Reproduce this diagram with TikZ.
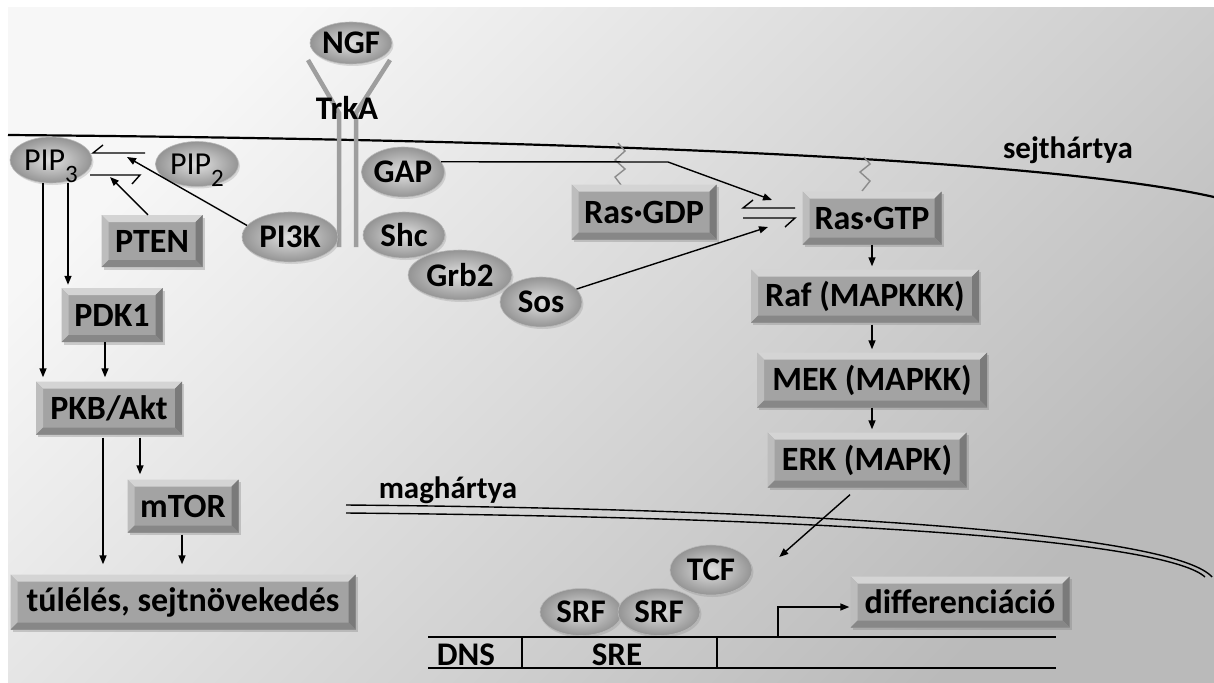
\documentclass[tikz,border=0pt]{standalone}
\usepackage{fontspec}
\setmainfont{Carlito}
\usetikzlibrary{shapes.geometric,arrows.meta,shadows,calc}
\newcommand\mybox{\fontsize{34}{36}\selectfont\bfseries}
\newcommand\myell{\fontsize{33}{35}\selectfont\bfseries}
\newcommand\mylab{\fontsize{31}{33}\selectfont\bfseries}
\newcommand\mypip{\fontsize{32}{34}\selectfont}
\begin{document}
\begin{tikzpicture}[x=1pt,y=-1pt,
  arr/.style={line width=1.4pt, -{Triangle[length=9pt,width=7pt]}},
  ln/.style={line width=1.4pt},
  memb/.style={line width=2.2pt},
  rec/.style={line width=4.5pt, draw=black!38},
  squig/.style={line width=1.4pt, draw=black!45},
  ell/.style={ellipse, inner sep=0pt, shading=radial, inner color=black!12, outer color=black!42,
    draw=black!28, line width=.6pt, font=\myell,
    drop shadow={shadow xshift=1.5pt, shadow yshift=-2pt, opacity=.25}},
  bevbox/.style={rectangle, inner sep=0pt, fill=black!36, font=\mybox,
    drop shadow={shadow xshift=2pt, shadow yshift=-2.5pt, opacity=.35},
    path picture={
      \path (path picture bounding box.north west) coordinate (bbnw)
            (path picture bounding box.north east) coordinate (bbne)
            (path picture bounding box.south west) coordinate (bbsw)
            (path picture bounding box.south east) coordinate (bbse);
      \fill[black!17] (bbnw) -- (bbne) -- ([shift={(-7pt,-7pt)}]bbne) -- ([shift={(7pt,-7pt)}]bbnw) -- cycle;
      \fill[black!26] (bbnw) -- ([shift={(7pt,-7pt)}]bbnw) -- ([shift={(7pt,7pt)}]bbsw) -- (bbsw) -- cycle;
      \fill[black!52] (bbne) -- (bbse) -- ([shift={(-7pt,7pt)}]bbse) -- ([shift={(-7pt,-7pt)}]bbne) -- cycle;
      \fill[black!47] (bbsw) -- (bbse) -- ([shift={(-7pt,7pt)}]bbse) -- ([shift={(7pt,7pt)}]bbsw) -- cycle;
    }},
  lab/.style={font=\mylab, inner sep=0pt}
]
\useasboundingbox (0,0) rectangle (1214,682);
\fill[white] (0,0) rectangle (1214,682);
\shade[top color=black!3, bottom color=black!27, shading angle=45] (8,8) rectangle (1214,682);

% cell membrane
\draw[memb] (8,135) .. controls (600,140) and (1050,160) .. (1214,197);
\node[lab] (sejt) at (1068,150) {sejthártya};

% nuclear membrane
\draw[ln] (346,505) .. controls (900,510) and (1180,540) .. (1212,577);
\draw[ln] (346,513) .. controls (900,518) and (1170,545) .. (1205,577);
\node[lab] (mag) at (448,490) {maghártya};

% TrkA receptor
\draw[rec] (308,60) -- (339,113) -- (339,247);
\draw[rec] (390,60) -- (356,113) -- (356,247);
\node[font=\myell, inner sep=0pt] (trka) at (347,108) {TrkA};

% anchors of Ras
\draw[squig] (618,143) -- (625,151) -- (615,160) -- (625,169) -- (615,177) -- (621,185);
\draw[squig] (864,157) -- (870,164) -- (860,172) -- (870,181) -- (862,191);

% ellipses
\node[ell, minimum width=82pt, minimum height=42pt] (NGF) at (351,43) {NGF};
\node[ell, minimum width=82pt, minimum height=46pt, font=\mypip] (PIP3) at (51,160) {PIP\smash{\raisebox{-12pt}{\fontsize{25}{25}\selectfont 3}}};
\node[ell, minimum width=83pt, minimum height=45pt, font=\mypip] (PIP2) at (197,164) {PIP\smash{\raisebox{-12pt}{\fontsize{25}{25}\selectfont 2}}};
\node[ell, minimum width=96pt, minimum height=50pt] (PI3K) at (290,237) {PI3K};
\node[ell, minimum width=83pt, minimum height=50pt] (GAP) at (403,172) {GAP};
\node[ell, minimum width=82pt, minimum height=46pt] (Shc) at (404,235) {Shc};
\node[ell, minimum width=104pt, minimum height=50pt] (Grb2) at (460,275) {Grb2};
\node[ell, minimum width=82pt, minimum height=50pt] (Sos) at (541,302) {Sos};
\node[ell, minimum width=82pt, minimum height=50pt] (TCF) at (711,570) {TCF};
\node[ell, minimum width=82pt, minimum height=47pt] (SRF1) at (581,612) {SRF};
\node[ell, minimum width=82pt, minimum height=47pt] (SRF2) at (659,612) {SRF};

% boxes
\node[bevbox, minimum width=101pt, minimum height=52pt] (PTEN) at (152,241) {PTEN};
\node[bevbox, minimum width=101pt, minimum height=54pt] (PDK1) at (112,315) {PDK1};
\node[bevbox, minimum width=146pt, minimum height=53pt] (PKB) at (109,408) {PKB/Akt};
\node[bevbox, minimum width=111pt, minimum height=53pt] (mTOR) at (183,506) {mTOR};
\node[bevbox, minimum width=345pt, minimum height=55pt] (surv) at (183,602) {túlélés, sejtnövekedés};
\node[bevbox, minimum width=145pt, minimum height=55pt] (RasGDP) at (644,212) {Ras·GDP};
\node[bevbox, minimum width=139pt, minimum height=53pt] (RasGTP) at (872,218) {Ras·GTP};
\node[bevbox, minimum width=228pt, minimum height=53pt] (Raf) at (865,296) {Raf (MAPKKK)};
\node[bevbox, minimum width=230pt, minimum height=55pt] (MEK) at (872,380) {MEK (MAPKK)};
\node[bevbox, minimum width=199pt, minimum height=55pt] (ERK) at (867,460) {ERK (MAPK)};
\node[bevbox, minimum width=219pt, minimum height=51pt] (diff) at (960,602) {differenciáció};

% PIP3 <-> PIP2 reaction
\draw[ln] (103,145) -- (93,153) -- (145,153);
\draw[ln] (90,175) -- (140,175) -- (132,184);
\coordinate (p1) at (127,157);
\coordinate (p2) at (110,177);
\draw[arr] (PI3K.165) -- (p1);
\draw[arr] ([xshift=-4pt]PTEN.north) -- (p2);

% Ras-GDP <-> Ras-GTP reaction
\draw[ln] (753,200) -- (743,208) -- (795,208);
\draw[ln] (743,218) -- (795,218) -- (785,227);
\coordinate (gapbend) at (668,162);
\coordinate (gaptip) at (772,200);
\coordinate (sostip) at (768,227);
\draw[arr] (GAP.15) -- (gapbend) -- (gaptip);
\draw[arr] (Sos.20) -- (sostip);

% left pathway
\draw[arr, shorten >=4pt] ([xshift=-8pt]PIP3.south) -- ([xshift=-8pt]PIP3.south |- PKB.north);
\draw[arr, shorten >=3pt] ([xshift=17pt]PIP3.south) -- ([xshift=17pt]PIP3.south |- PDK1.north);
\draw[arr, shorten >=4pt] ([xshift=-7pt]PDK1.south) -- ([xshift=-7pt]PDK1.south |- PKB.north);
\draw[arr, shorten <=3pt, shorten >=5pt] ([xshift=31pt]PKB.south) -- ([xshift=31pt]PKB.south |- mTOR.north);
\draw[arr, shorten <=3pt, shorten >=10pt] ([xshift=-6pt]PKB.south) -- ([xshift=-6pt]PKB.south |- surv.north);
\draw[arr, shorten <=2pt, shorten >=10pt] ([xshift=-1pt]mTOR.south) -- ([xshift=-1pt]mTOR.south |- surv.north);

% MAPK cascade
\draw[arr, shorten >=3pt] (RasGTP.south) -- (RasGTP.south |- Raf.north);
\draw[arr, shorten <=2pt, shorten >=3pt] ([xshift=7pt]Raf.south) -- ([xshift=7pt]Raf.south |- MEK.north);
\draw[arr, shorten >=3pt] (MEK.south) -- (MEK.south |- ERK.north);
\draw[arr] ([xshift=-17pt,yshift=-7pt]ERK.south) -- ([xshift=27pt,yshift=13pt]TCF.east);

% DNA
\draw[ln] (428,637) -- (1056,637);
\draw[ln] (428,668) -- (1056,668);
\draw[ln] (522,637) -- (522,668);
\draw[ln] (717,637) -- (717,668);
\node[font=\myell, inner sep=0pt] (dns) at (466,655) {DNS};
\node[font=\myell, inner sep=0pt] (sre) at (617,655) {SRE};
\coordinate (tss) at (778,637);
\draw[arr, shorten >=1pt] (tss) |- ([yshift=-5pt]diff.west);
\end{tikzpicture}
\end{document}
